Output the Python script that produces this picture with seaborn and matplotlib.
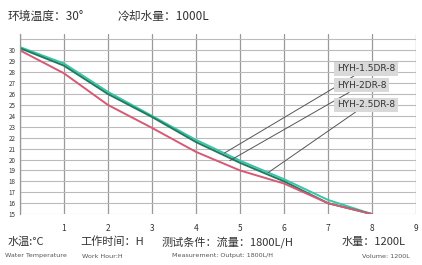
import pandas as pd
import matplotlib.pyplot as plt
import seaborn as sns

# ---------------- data ----------------
hours = [0, 1, 2, 3, 4, 5, 6, 7, 8]
temp_15dr = [30.3, 28.8, 26.2, 24.0, 21.8, 19.9, 18.2, 16.3, 15.0]
temp_2dr = [30.2, 28.6, 26.0, 23.9, 21.6, 19.7, 18.0, 16.0, 15.0]
temp_25dr = [30.0, 27.9, 25.0, 22.9, 20.7, 19.0, 17.8, 16.0, 15.0]
models = ['HYH-1.5DR-8', 'HYH-2DR-8', 'HYH-2.5DR-8']
colors = ['#35c7aa', '#237a5e', '#d65a74']

x_ticks = [1, 2, 3, 4, 5, 6, 7, 8, 9]
y_ticks = list(range(15, 31))

df = pd.DataFrame({
    'hour': hours * 3,
    'temp': temp_15dr + temp_2dr + temp_25dr,
    'model': [models[0]] * 9 + [models[1]] * 9 + [models[2]] * 9,
})

# ---------------- style ----------------
sns.set_theme(style='white')
plt.rcParams['font.family'] = ['Noto Sans CJK SC', 'DejaVu Sans']

fig = plt.figure(figsize=(4.22, 2.65), dpi=100)
ax = fig.add_axes([0.047, 0.192, 0.939, 0.68])

sns.lineplot(data=df, x='hour', y='temp', hue='model', palette=dict(zip(models, colors)),
             linewidth=1.4, legend=False, ax=ax)

ax.set_xlim(0, 9)
ax.set_ylim(15, 31.5)
ax.set_xticks(range(0, 10))
ax.set_xticklabels([''] + [str(t) for t in x_ticks])
ax.set_yticks(range(15, 32))
ax.set_yticklabels([str(t) for t in y_ticks] + [''])
ax.tick_params(axis='x', labelsize=6, colors='#333333', length=0, pad=7)
ax.tick_params(axis='y', labelsize=4.5, colors='#333333', length=0, pad=3)
ax.grid(True, axis='y', color='#bbbbbb', linewidth=0.8)
ax.grid(True, axis='x', color='#999999', linewidth=0.9)
ax.set_xlabel('')
ax.set_ylabel('')
for s in ['top', 'right', 'bottom']:
    ax.spines[s].set_visible(False)
ax.spines['left'].set_color('#999999')
ax.spines['left'].set_linewidth(0.9)

# labels with leader lines
label_pos = [(7.2, 28.3), (7.2, 26.8), (7.2, 25.0)]
target_pos = [(4.65, 20.6), (4.77, 19.9), (5.64, 18.8)]
for name, (lx, ly), (tx, ty) in zip(models, label_pos, target_pos):
    ax.annotate(name, xy=(tx, ty), xytext=(lx, ly), fontsize=6.5, color='#333333',
                va='center', ha='left', family=['DejaVu Sans'],
                bbox=dict(boxstyle='square,pad=0.3', fc='#d9d9d9', ec='none'),
                arrowprops=dict(arrowstyle='-', color='#555555', lw=0.7,
                                shrinkA=0, shrinkB=0))

# texts around the chart
W, H = 422.0, 265.0
top_texts = [(8, '环境温度：30°'), (118, '冷却水量：1000L')]
for px, s in top_texts:
    fig.text(px / W, 1 - 16 / H, s, fontsize=8.5, color='#333333', va='center')

bottom_cn = [(8, '水温:°C'), (80, '工作时间：H'), (162, '测试条件：流量：1800L/H'), (342, '水量：1200L')]
for px, s in bottom_cn:
    fig.text(px / W, 1 - 242 / H, s, fontsize=8, color='#333333', va='center')

bottom_en = [(5, 'Water Temperature'), (82, 'Work Hour:H'),
             (172, 'Measurement: Output: 1800L/H'), (362, 'Volume: 1200L')]
for px, s in bottom_en:
    fig.text(px / W, 1 - 256 / H, s, fontsize=4.6, color='#555555', va='center',
             family=['DejaVu Sans'])

fig.savefig('out.png', dpi=100)
